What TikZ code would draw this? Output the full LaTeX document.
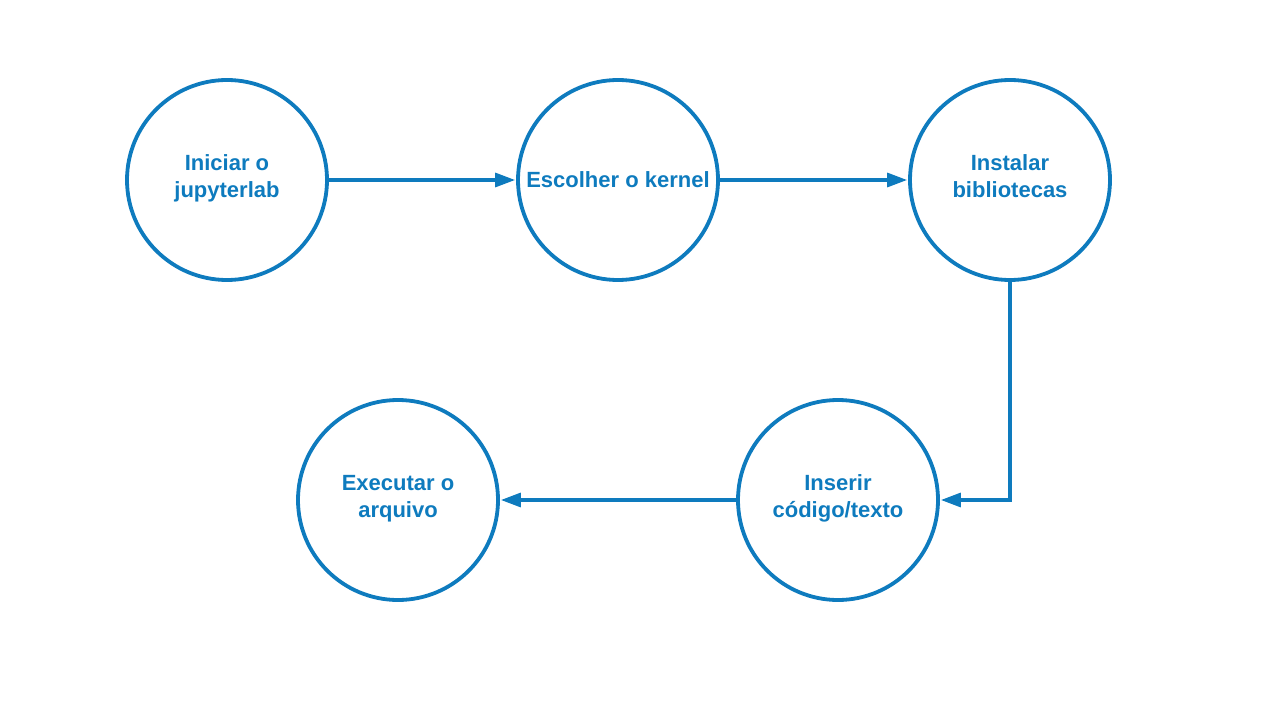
\documentclass[tikz,border=0pt]{standalone}
\usepackage{fontspec}
\setmainfont{Liberation Sans}
\usetikzlibrary{arrows.meta}
\definecolor{ink}{HTML}{0E7BBE}
\begin{document}
\begin{tikzpicture}[x=1pt,y=-1pt,
  stage/.style={circle,draw=ink,line width=3.8pt,minimum size=200pt,inner sep=0pt,
    text=ink,font=\bfseries\fontsize{22}{27}\selectfont,align=center},
  flow/.style={draw=ink,line width=3.2pt,-{Triangle[length=20pt,width=14pt]},shorten >=1pt}]
\useasboundingbox (0,0) rectangle (1285,714);
\node[stage] (a) at (227,180) {Iniciar o\\jupyterlab\\[-19pt]};
\node[stage] (b) at (618,180) {Escolher o kernel};
\node[stage] (c) at (1010,180) {Instalar\\bibliotecas\\[-19pt]};
\node[stage] (d) at (838,500) {Inserir\\código/texto\\[-19pt]};
\node[stage] (e) at (398,500) {Executar o\\arquivo\\[-19pt]};
\draw[flow] (a) -- (b);
\draw[flow] (b) -- (c);
\draw[flow] (c.south) |- (d.east);
\draw[flow] (d) -- (e);
\end{tikzpicture}
\end{document}
